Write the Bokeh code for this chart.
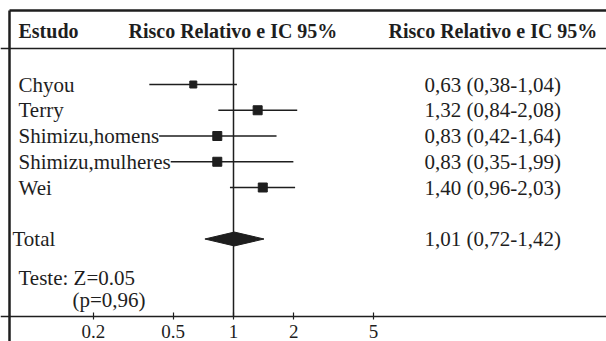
import math
from bokeh.plotting import figure
from bokeh.models import Range1d, FixedTicker, Span, LabelSet, ColumnDataSource
from bokeh.embed import file_html
from bokeh.resources import INLINE
from bokeh.core.properties import value

# ---------------- data ----------------
estudos = ["Chyou", "Terry", "Shimizu,homens", "Shimizu,mulheres", "Wei"]
rr = [0.63, 1.32, 0.83, 0.83, 1.40]
ic_inf = [0.38, 0.84, 0.42, 0.35, 0.96]
ic_sup = [1.04, 2.08, 1.64, 1.99, 2.03]
total_rotulo = "Total"
total_rr = 1.01
total_inf = 0.72
total_sup = 1.42
teste_z = 0.05
teste_p = 0.96
ticks = [0.2, 0.5, 1, 2, 5]
tick_labels = ["0.2", "0.5", "1", "2", "5"]
cabecalhos = ["Estudo", "Risco Relativo e IC 95%", "Risco Relativo e IC 95%"]

# ---------------- layout / style ----------------
W, H = 606, 341
PX_PER_LN = 87.0      # pixels per natural-log unit
X_ONE = 233.0         # pixel (from left of figure) where RR = 1
ROW0 = 84.0           # pixel (from top) of first study row
ROW_H = 25.75         # pixels per row
INK = "#1e1e1e"
FONT = "Liberation Serif"

study_rows = list(range(len(estudos)))
total_row = 6
teste_row = 7.5
p_row = 8.35
axis_row = 9.01
header_row = -2.07
header_line_row = -1.40
top_line_row = -2.874
marker_sizes = [7, 9, 9, 9, 9]

x_start = math.exp(-X_ONE / PX_PER_LN)
x_end = math.exp((W - X_ONE) / PX_PER_LN)
y_top = -ROW0 / ROW_H
y_bottom = (H - ROW0) / ROW_H
x_left_border = math.exp((9.0 - X_ONE) / PX_PER_LN)

p = figure(width=W, height=H, x_axis_type="log",
           x_range=Range1d(x_start, x_end),
           y_range=Range1d(start=y_bottom, end=y_top),
           output_backend="svg", toolbar_location=None,
           min_border=0, outline_line_color=None)
p.grid.visible = False
p.yaxis.visible = False
p.background_fill_color = "white"
p.border_fill_color = "white"

# structural lines
p.segment(x0=[x_left_border], y0=[top_line_row], x1=[x_end], y1=[top_line_row],
          line_color=INK, line_width=2.5)
p.add_layout(Span(location=header_line_row, dimension="width", line_color=INK, line_width=1.5))
p.segment(x0=[x_left_border], y0=[top_line_row], x1=[x_left_border], y1=[y_bottom],
          line_color=INK, line_width=2.5)

# reference line at RR = 1
p.segment(x0=[1], y0=[header_line_row], x1=[1], y1=[axis_row], line_color=INK, line_width=1.5)

# confidence intervals and point estimates
src = ColumnDataSource(dict(lo=ic_inf, hi=ic_sup, rr=rr, y=study_rows, s=marker_sizes))
p.segment(x0="lo", y0="y", x1="hi", y1="y", source=src, line_color=INK, line_width=1.3)
p.scatter(x="rr", y="y", size="s", marker="square", source=src, color=INK)

# pooled diamond
hh = 0.27
p.patch([total_inf, total_rr, total_sup, total_rr],
        [total_row, total_row - hh, total_row, total_row + hh],
        color=INK, line_width=1)

# axis
ax = p.xaxis[0]
ax.fixed_location = axis_row
ax.ticker = FixedTicker(ticks=ticks)
ax.major_label_overrides = {t: l for t, l in zip(ticks, tick_labels)}
ax.minor_tick_line_color = None
ax.axis_line_color = INK
ax.axis_line_width = 1.5
ax.major_tick_line_color = INK
ax.major_tick_line_width = 1.2
ax.major_tick_in = 4
ax.major_tick_out = 3
ax.major_label_standoff = 5
ax.major_label_text_font = FONT
ax.major_label_text_font_size = "19px"
ax.major_label_text_color = INK

def fmt(v):
    return f"{v:.2f}".replace(".", ",")

# text columns
def labels(xs, ys, texts, size, style="normal", bg=None):
    s = ColumnDataSource(dict(x=xs, y=ys, t=texts))
    ls = LabelSet(x="x", y="y", text="t", source=s, x_units="screen", y_units="data",
                  text_font=value(FONT), text_font_size=size, text_font_style=style,
                  text_color=INK, text_baseline="middle", text_align="left")
    if bg:
        ls.background_fill_color = bg
    p.add_layout(ls)

labels([18, 128, 388], [header_row] * 3, cabecalhos, "20px", "bold")
labels([18] * len(estudos), study_rows, estudos, "21px", bg="white")
labels([12], [total_row], [total_rotulo], "21px")
ci_texts = [f"{fmt(a)} ({fmt(b)}-{fmt(c)})" for a, b, c in zip(rr, ic_inf, ic_sup)]
ci_texts.append(f"{fmt(total_rr)} ({fmt(total_inf)}-{fmt(total_sup)})")
labels([424] * (len(ci_texts)), study_rows + [total_row], ci_texts, "21px")
labels([18, 72], [teste_row, p_row],
       [f"Teste: Z={teste_z:.2f}", f"(p={fmt(teste_p)})"], "21px")

open("out.html", "w").write(file_html(p, INLINE))
